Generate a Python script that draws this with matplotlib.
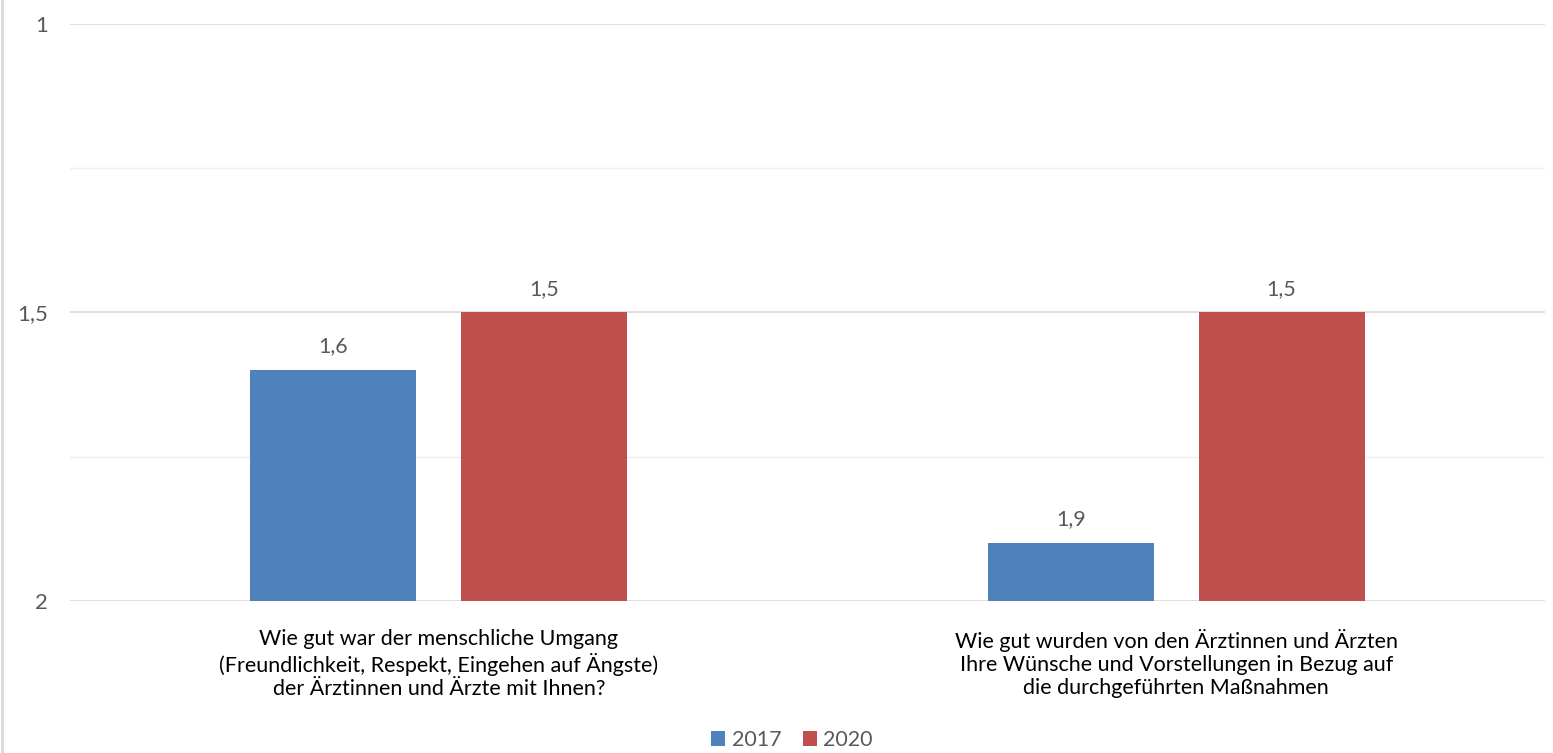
# balkendiagramm mit umgekehrter achse (1 = beste note oben)
import matplotlib.pyplot as plt
import matplotlib.lines as mlines

plt.rcParams['font.family'] = ['Lato', 'DejaVu Sans']

categories = [
    "Wie gut war der menschliche Umgang\n(Freundlichkeit, Respekt, Eingehen auf Ängste)\nder Ärztinnen und Ärzte mit Ihnen?",
    "Wie gut wurden von den Ärztinnen und Ärzten\nIhre Wünsche und Vorstellungen in Bezug auf\ndie durchgeführten Maßnahmen",
]
years = ["2017", "2020"]
values_2017 = [1.6, 1.9]
values_2020 = [1.5, 1.5]
colors = ["#4F81BD", "#C0504D"]

fig = plt.figure(figsize=(15.53, 7.53), dpi=100)
ax = fig.add_axes([0.0451, 0.2019, 0.9497, 0.7662])

width = 0.225
offset = 0.143
x = range(len(categories))
base = 2
fs = 15.5

for i, (vals, year) in enumerate(zip([values_2017, values_2020], years)):
    pos = [k + (offset if i else -offset) for k in x]
    bars = ax.bar(pos, [v - base for v in vals], bottom=base, width=width,
                  color=colors[i], label=year, zorder=3)
    for b, v in zip(bars, vals):
        ax.annotate(str(v).replace(".", ","), (b.get_x() + b.get_width() / 2, v),
                    xytext=(0, 10), textcoords="offset points",
                    ha="center", va="bottom", fontsize=fs, color="#595959")

ax.set_xlim(-0.5, 1.5)
ax.set_ylim(2, 1)
ax.set_yticks([1, 1.5, 2])
ax.set_yticklabels(["1", "1,5", "2"])
ax.set_yticks([1.25, 1.75], minor=True)
ax.grid(axis="y", which="major", color="#d9d9d9", linewidth=1.2, zorder=0)
ax.grid(axis="y", which="minor", color="#efefef", linewidth=1, zorder=0)
ax.set_xticks(list(x))
ax.set_xticklabels(categories, fontsize=fs, color="black", linespacing=1.2)
ax.tick_params(axis="both", which="both", length=0)
ax.tick_params(axis="y", pad=16, labelsize=fs + 0.5, labelcolor="#595959")
ax.tick_params(axis="x", pad=20)
for s in ax.spines.values():
    s.set_visible(False)

leg = fig.legend(loc="lower center", bbox_to_anchor=(0.51, -0.022), ncol=2,
                 frameon=False, fontsize=fs, handlelength=0.65, handleheight=0.65,
                 handletextpad=0.3, columnspacing=1.0)
for t in leg.get_texts():
    t.set_color("#595959")

fig.add_artist(mlines.Line2D([0.001, 0.001], [0, 1], color="#d9d9d9", linewidth=2,
                             transform=fig.transFigure))

plt.savefig("out.png", dpi=100)
